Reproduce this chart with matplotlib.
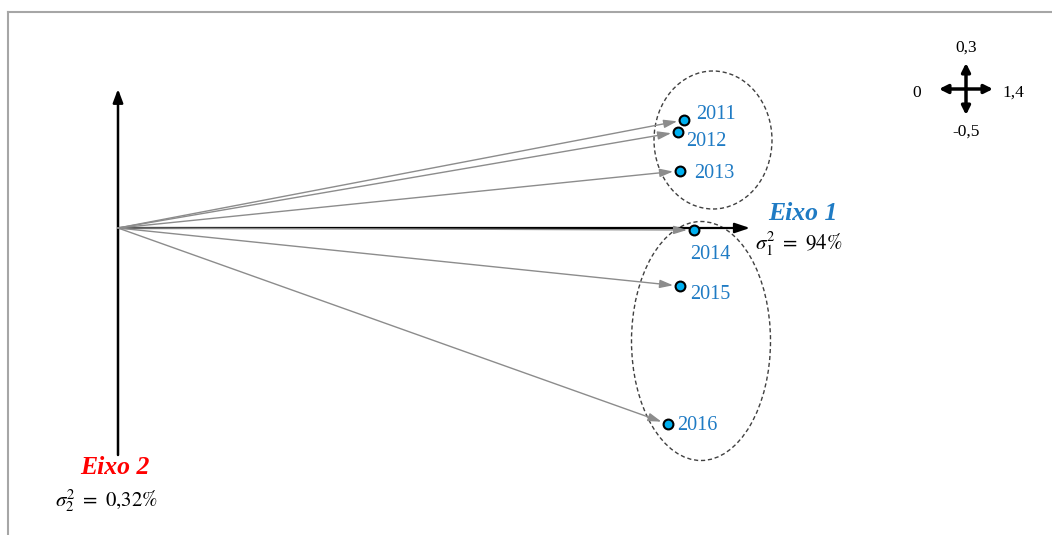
import matplotlib.pyplot as plt
from matplotlib.patches import Ellipse

# factor scores per year (axis 1, axis 2)
anos = ["2011", "2012", "2013", "2014", "2015", "2016"]
f1 = [1.415, 1.40, 1.405, 1.44, 1.405, 1.375]
f2 = [0.27, 0.24, 0.143, -0.005, -0.145, -0.49]

# label offsets (in pixels) for each year
lab_dx = [12, 8, 14, -4, 10, 9]
lab_dy = [5.5, -9.5, -2.5, -24.5, -8.5, -1.5]

azul = "#1F7BC4"
serif = ["Liberation Serif", "DejaVu Serif"]
plt.rcParams["mathtext.fontset"] = "stix"

fig = plt.figure(figsize=(10.52, 5.35), dpi=100)
ax = fig.add_axes([0, 0, 1, 1])
k = 400.0  # pixels per unit
ox, oy = 118, 228
ax.set_xlim(-ox / k, (1052 - ox) / k)
ax.set_ylim(-(535 - oy) / k, oy / k)
ax.axis("off")

# frame lines (top and left)
fig.add_artist(plt.Line2D([8 / 1052, 1], [1 - 12 / 535] * 2, color="#a6a6a6", lw=1.5))
fig.add_artist(plt.Line2D([8 / 1052] * 2, [0, 1 - 12 / 535], color="#a6a6a6", lw=1.5))

# main axes
ax.annotate("", xy=(632 / k, 0), xytext=(0, 0),
            arrowprops=dict(arrowstyle="-|>,head_length=0.9,head_width=0.3", color="black", lw=1.6,
                            shrinkA=0, shrinkB=0))
ax.annotate("", xy=(0, 139 / k), xytext=(0, -227 / k),
            arrowprops=dict(arrowstyle="-|>,head_length=0.8,head_width=0.3", color="black", lw=1.8,
                            shrinkA=0, shrinkB=0))

# vectors from origin
for x, y in zip(f1, f2):
    ax.annotate("", xy=(x, y), xytext=(0, 0),
                arrowprops=dict(arrowstyle="-|>,head_length=0.8,head_width=0.25", color="#8c8c8c",
                                lw=1.0, shrinkA=0, shrinkB=5))

ax.scatter(f1, f2, s=50, facecolor="#00B0F0", edgecolor="black", linewidth=1.5, zorder=5)

for a, x, y, dx, dy in zip(anos, f1, f2, lab_dx, lab_dy):
    ax.text(x + dx / k, y + dy / k, a, color=azul, fontsize=14.5, family=serif,
            ha="left", va="center")

# groups
ax.add_patch(Ellipse((595 / k, 88 / k), 118 / k, 138 / k, fill=False, ls=(0, (3, 2)),
                     ec="#404040", lw=1.0))
ax.add_patch(Ellipse((583 / k, -113 / k), 139 / k, 239 / k, fill=False, ls=(0, (3, 2)),
                     ec="#404040", lw=1.0))

# axis titles
ax.text(650 / k, 14 / k, "Eixo 1", color=azul, fontsize=18.5, family=serif,
        weight="bold", style="italic", ha="left", va="center")
ax.text(637 / k, -16 / k, r"$\sigma_1^2\ =\ 94\%$", fontsize=15, ha="left", va="center")
ax.text(-38 / k, -240 / k, "Eixo 2", color="#FF0000", fontsize=18.5, family=serif,
        weight="bold", style="italic", ha="left", va="center")
ax.text(-63 / k, -273 / k, r"$\sigma_2^2\ =\ 0{,}32\%$", fontsize=15, ha="left", va="center")

# scale cross
cx, cy = 848 / k, 139 / k
hp = dict(arrowstyle="<|-|>,head_length=0.5,head_width=0.25", color="black", lw=2.5,
          shrinkA=0, shrinkB=0)
ax.annotate("", xy=(cx + 27 / k, cy), xytext=(cx - 27 / k, cy), arrowprops=hp)
ax.annotate("", xy=(cx, cy + 26 / k), xytext=(cx, cy - 26 / k), arrowprops=hp)
ax.text(cx - 54 / k, cy - 4 / k, "0", fontsize=12.5, family=serif, ha="left", va="center")
ax.text(cx + 36 / k, cy - 4 / k, "1,4", fontsize=12.5, family=serif, ha="left", va="center")
ax.text(cx, cy + 41 / k, "0,3", fontsize=12.5, family=serif, ha="center", va="center")
ax.text(cx, cy - 43 / k, "-0,5", fontsize=12.5, family=serif, ha="center", va="center")

fig.savefig("out.png", dpi=100)
